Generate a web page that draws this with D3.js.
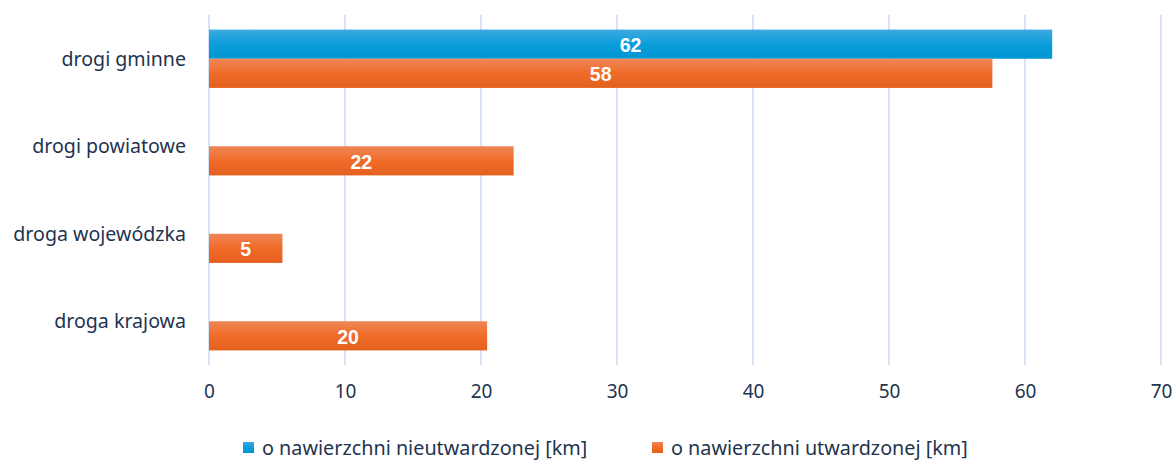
<!DOCTYPE html>
<html>
<head>
<meta charset="utf-8">
<script src="https://cdn.jsdelivr.net/npm/d3@7"></script>
<style>
  body { margin: 0; background: #fff; }
  svg text { font-family: "Noto Sans", sans-serif; }
</style>
</head>
<body>
<svg id="chart"></svg>
<script>
const width = 1176, height = 460;
const margin = { top: 15, right: 15, bottom: 95, left: 209 };

// Data
const categories = ["drogi gminne", "drogi powiatowe", "droga wojewódzka", "droga krajowa"];
const seriesNames = ["o nawierzchni nieutwardzonej [km]", "o nawierzchni utwardzonej [km]"];
const unpaved = [62, null, null, null];
const paved = [57.6, 22.4, 5.4, 20.45];
const xTicks = [0, 10, 20, 30, 40, 50, 60, 70];

const textColor = "#1f344f";

const svg = d3.select("#chart")
    .attr("width", width)
    .attr("height", height);

const defs = svg.append("defs");
function addGradient(id, top, mid, bottom) {
    const gr = defs.append("linearGradient")
        .attr("id", id).attr("x1", 0).attr("y1", 0).attr("x2", 0).attr("y2", 1);
    gr.append("stop").attr("offset", "0%").attr("stop-color", top);
    gr.append("stop").attr("offset", "50%").attr("stop-color", mid);
    gr.append("stop").attr("offset", "100%").attr("stop-color", bottom);
}
addGradient("gradBlue", "#3ea9e1", "#0a9dda", "#0096d4");
addGradient("gradOrange", "#ef8757", "#f06b28", "#e4601f");

const x = d3.scaleLinear().domain([0, 70]).range([0, 952]);
const y = d3.scaleBand().domain(categories).range([0, 350]).paddingInner(0.3333).paddingOuter(0.1667);
const sub = d3.scaleBand().domain([0, 1]).range([0, y.bandwidth()]);

const g = svg.append("g").attr("transform", `translate(${margin.left},${margin.top})`);

// Gridlines
g.append("g").selectAll("line")
    .data(xTicks)
    .enter().append("line")
    .attr("x1", d => x(d)).attr("x2", d => x(d))
    .attr("y1", 0).attr("y2", 350)
    .attr("stroke", "#d5e3f5")
    .attr("stroke-width", 2);

// Bars
const series = [
    { values: unpaved, fill: "url(#gradBlue)" },
    { values: paved, fill: "url(#gradOrange)" }
];

series.forEach((s, si) => {
    const rows = categories.map((c, i) => ({ c, v: s.values[i] })).filter(d => d.v != null);
    g.append("g").selectAll("rect")
        .data(rows)
        .enter().append("rect")
        .attr("x", x(0))
        .attr("y", d => y(d.c) + sub(si))
        .attr("width", d => x(d.v) - x(0))
        .attr("height", sub.bandwidth())
        .attr("fill", s.fill);
    g.append("g").selectAll("text")
        .data(rows)
        .enter().append("text")
        .attr("x", d => (x(0) + x(d.v)) / 2)
        .attr("y", d => y(d.c) + sub(si) + sub.bandwidth() / 2 + 1)
        .attr("dy", "0.36em")
        .attr("text-anchor", "middle")
        .attr("fill", "#fff")
        .style("font-family", "'Liberation Sans', Arial, sans-serif")
        .style("font-weight", "bold")
        .style("font-size", "19.5px")
        .text(d => d3.format(".0f")(d.v));
});

// Category labels
g.append("g").selectAll("text")
    .data(categories)
    .enter().append("text")
    .attr("x", -23)
    .attr("y", d => y(d) + y.bandwidth() / 2)
    .attr("dy", "0.35em")
    .attr("text-anchor", "end")
    .attr("fill", textColor)
    .style("font-size", "19.6px")
    .text(d => d);

// X axis labels
const xAxis = g.append("g")
    .attr("transform", `translate(0,${350})`)
    .call(d3.axisBottom(x).tickValues(xTicks).tickSize(0).tickPadding(20));
xAxis.select(".domain").remove();
xAxis.selectAll("text")
    .attr("fill", textColor)
    .style("font-family", "'Noto Sans', sans-serif")
    .style("font-size", "19px");

// Legend
const legend = svg.append("g").attr("transform", "translate(0,448)");
const legendItems = [
    { name: seriesNames[0], fill: "url(#gradBlue)", x: 243 },
    { name: seriesNames[1], fill: "url(#gradOrange)", x: 652 }
];
legendItems.forEach(d => {
    legend.append("rect")
        .attr("x", d.x).attr("y", -6)
        .attr("width", 11).attr("height", 11)
        .attr("fill", d.fill);
    legend.append("text")
        .attr("x", d.x + 19).attr("y", 0)
        .attr("dy", "0.35em")
        .attr("fill", textColor)
        .style("font-family", "'Noto Sans', sans-serif")
        .style("font-size", "19.8px")
        .text(d.name);
});
</script>
</body>
</html>
